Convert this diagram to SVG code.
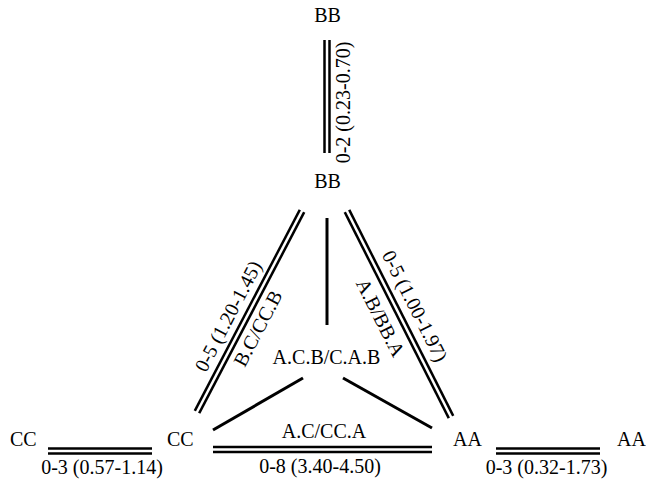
<svg xmlns="http://www.w3.org/2000/svg" width="646" height="483" viewBox="0 0 646 483">
  <style>
    .lbl { font-family: "Liberation Serif", "Times New Roman", serif; font-size: 20px; fill: #000; }
    .mid { text-anchor: middle; }
    .dbl-outer { stroke: #000; stroke-width: 7.5; fill: none; }
    .dbl-inner { stroke: #fff; stroke-width: 2.5; fill: none; }
    .single { stroke: #000; stroke-width: 3; fill: none; }
  </style>
  <rect width="646" height="483" fill="#fff"/>

  <!-- connectors -->
  <g id="connectors">
    <!-- double bonds: black band with a white core -->
    <g class="dbl-outer">
      <line x1="327" y1="40" x2="327" y2="153"/>
      <line x1="302" y1="211" x2="197" y2="412"/>
      <line x1="347" y1="211" x2="451" y2="417"/>
      <line x1="213" y1="449.5" x2="432" y2="449.5"/>
      <line x1="48" y1="451" x2="152" y2="451"/>
      <line x1="496" y1="451" x2="600" y2="451"/>
    </g>
    <g class="dbl-inner">
      <line x1="327" y1="39" x2="327" y2="154"/>
      <line x1="302.5" y1="210" x2="196.5" y2="413"/>
      <line x1="346.5" y1="210" x2="451.5" y2="418"/>
      <line x1="212" y1="449.5" x2="433" y2="449.5"/>
      <line x1="47" y1="451" x2="153" y2="451"/>
      <line x1="495" y1="451" x2="601" y2="451"/>
    </g>
    <!-- single bonds to the central pair -->
    <line class="single" x1="327" y1="218" x2="327" y2="325"/>
    <line class="single" x1="213" y1="430" x2="303" y2="378"/>
    <line class="single" x1="343" y1="378" x2="432" y2="428"/>

    <!-- connector labels -->
    <text class="lbl mid" transform="translate(349.5,102.5) rotate(-90)">0-2 (0.23-0.70)</text>
    <g transform="translate(249.5,311.5) rotate(-62.4)">
      <text class="lbl mid" x="-14" y="-10">0-5 (1.20-1.45)</text>
      <text class="lbl mid" x="-11" y="22">B.C/CC.B</text>
    </g>
    <g transform="translate(399,314) rotate(63.2)">
      <text class="lbl mid" x="0" y="-11">0-5 (1.00-1.97)</text>
      <text class="lbl mid" x="-5" y="25">A.B/BB.A</text>
    </g>
    <text class="lbl mid" x="324" y="438">A.C/CC.A</text>
    <text class="lbl mid" x="320" y="473">0-8 (3.40-4.50)</text>
    <text class="lbl mid" x="102" y="474">0-3 (0.57-1.14)</text>
    <text class="lbl mid" x="546.5" y="474">0-3 (0.32-1.73)</text>
  </g>

  <!-- nodes -->
  <g id="bb-top"><text class="lbl mid" x="327.5" y="22">BB</text></g>
  <g id="bb"><text class="lbl mid" x="327.5" y="188">BB</text></g>
  <g id="acb"><text class="lbl mid" x="326.5" y="364">A.C.B/C.A.B</text></g>
  <g id="cc-left"><text class="lbl" x="10" y="446">CC</text></g>
  <g id="cc"><text class="lbl" x="167" y="446">CC</text></g>
  <g id="aa"><text class="lbl" x="453" y="446">AA</text></g>
  <g id="aa-right"><text class="lbl" x="617" y="446">AA</text></g>
</svg>
